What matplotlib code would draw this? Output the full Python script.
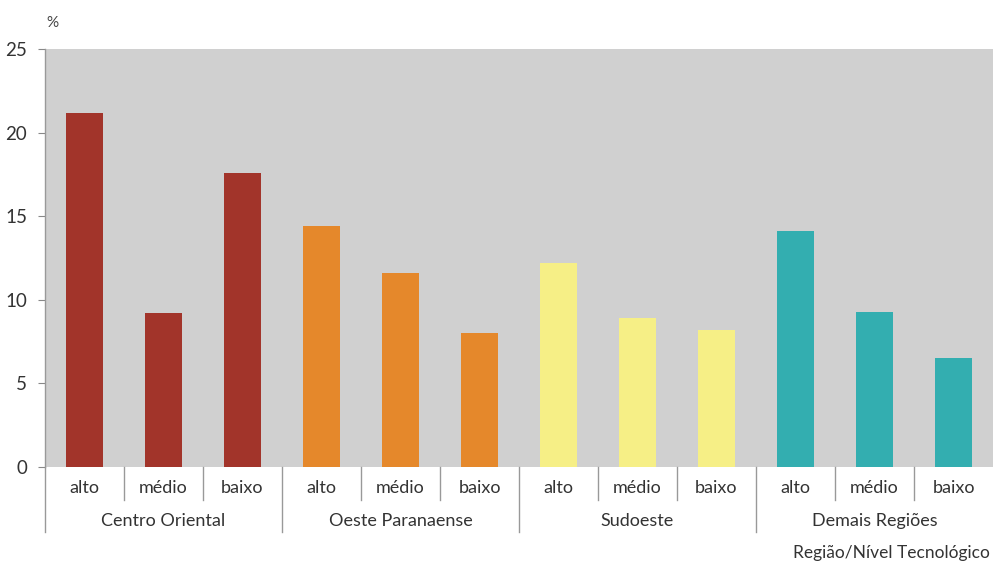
import numpy as np
import matplotlib.pyplot as plt
import matplotlib.transforms as mtransforms

plt.rcParams['font.family'] = ['Lato', 'DejaVu Sans']

# Participation by region and technology level
regioes = ['Centro Oriental', 'Oeste Paranaense', 'Sudoeste', 'Demais Regiões']
niveis = ['alto', 'médio', 'baixo']
centro_oriental = [21.2, 9.2, 17.6]
oeste_paranaense = [14.4, 11.6, 8.0]
sudoeste = [12.2, 8.9, 8.2]
demais_regioes = [14.1, 9.3, 6.5]
cores = ['#a2342a', '#e5882b', '#f6ef86', '#33aeb0']

series = [centro_oriental, oeste_paranaense, sudoeste, demais_regioes]

fig = plt.figure(figsize=(9.93, 5.65), dpi=100)
ax = fig.add_axes([45 / 993, 98 / 565, 948 / 993, 418 / 565])
ax.set_facecolor('#d0d0d0')

n = len(niveis)
for g, (vals, cor) in enumerate(zip(series, cores)):
    x = np.arange(n) + g * n
    ax.bar(x, vals, width=0.47, color=cor, zorder=2)

ax.set_xlim(-0.5, len(regioes) * n - 0.5)
ax.set_ylim(0, 25)
ax.set_yticks([0, 5, 10, 15, 20, 25])
ax.tick_params(axis='y', length=5, color='#888888', labelsize=13.5,
               labelcolor='#333333', pad=8)
ax.set_xticks([])
for s in ['top', 'right', 'bottom']:
    ax.spines[s].set_visible(False)
ax.spines['left'].set_color('#999999')
ax.spines['left'].set_linewidth(1)

# category axis below the plot: level labels, then region labels
trans = mtransforms.blended_transform_factory(ax.transData, ax.transAxes)
dy1 = -33 / 418
dy2 = -65 / 418
for i in range(len(regioes) * n):
    ax.text(i, -21 / 418, niveis[i % n], transform=trans, ha='center',
            va='center', fontsize=13, color='#333333')
    if i > 0:
        ext = dy2 if i % n == 0 else dy1
        ax.plot([i - 0.5, i - 0.5], [0, ext], transform=trans,
                color='#999999', lw=1, clip_on=False)
ax.plot([-0.5, -0.5], [0, dy2], transform=trans, color='#999999', lw=1,
        clip_on=False)
for g, nome in enumerate(regioes):
    ax.text(g * n + 1, -54 / 418, nome, transform=trans, ha='center',
            va='center', fontsize=13, color='#333333')

fig.text(46 / 993, 1 - 23 / 565, '%', fontsize=11, color='#444444',
         va='center')
fig.text(990 / 993, 1 - 553 / 565, 'Região/Nível Tecnológico', fontsize=12.5,
         color='#333333', ha='right', va='center')

fig.savefig('out.png', dpi=100)
